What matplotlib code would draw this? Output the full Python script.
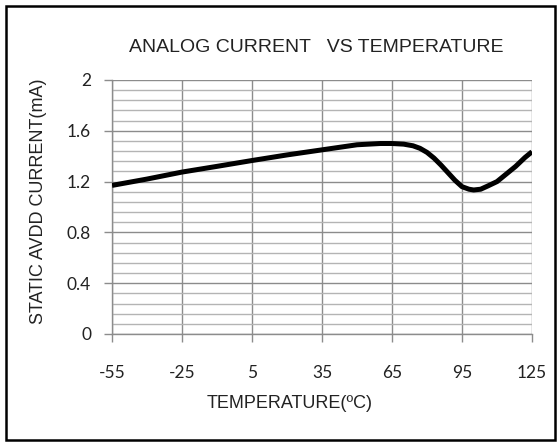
import matplotlib
matplotlib.use("Agg")
import matplotlib.pyplot as plt
from matplotlib.patches import Rectangle
from matplotlib.ticker import MultipleLocator

# temperature (C) and static AVDD current (mA)
temps = [-55, -40, -25, -10, 5, 20, 35, 50, 60, 65, 70, 74, 77, 80, 83, 86,
         89, 92, 95, 98, 100, 103, 106, 110, 114, 118, 122, 125]
current = [1.17, 1.22, 1.275, 1.32, 1.366, 1.41, 1.45, 1.49, 1.50, 1.50,
           1.495, 1.482, 1.462, 1.43, 1.385, 1.33, 1.27, 1.21, 1.16, 1.14,
           1.134, 1.14, 1.165, 1.20, 1.26, 1.32, 1.39, 1.435]

x_ticks = [-55, -25, 5, 35, 65, 95, 125]
y_ticks = [0, 0.4, 0.8, 1.2, 1.6, 2]
y_labels = ['0', '0.4', '0.8', '1.2', '1.6', '2']

plt.rcParams['font.family'] = ['Liberation Sans', 'DejaVu Sans']

W, H = 560, 445
fig = plt.figure(figsize=(5.6, 4.45), dpi=100)
fig.patch.set_facecolor('white')
ax = fig.add_axes([112 / W, 1 - 334 / H, 420 / W, 254 / H])

ax.plot(temps, current, color='black', lw=3.6, solid_capstyle='butt',
        solid_joinstyle='round', zorder=3)

ax.set_xlim(-55, 125)
ax.set_ylim(0, 2)
ax.set_xticks(x_ticks)
ax.set_xticklabels([str(t) for t in x_ticks])
ax.set_yticks(y_ticks)
ax.set_yticklabels(y_labels)
ax.yaxis.set_minor_locator(MultipleLocator(0.08))

ax.grid(which='major', axis='both', color='#8c8c8c', lw=1.0)
ax.grid(which='minor', axis='y', color='#b4b4b4', lw=1.0)
ax.set_axisbelow(True)

for side in ['top', 'right']:
    ax.spines[side].set_visible(False)
for side in ['left', 'bottom']:
    ax.spines[side].set_color('#8c8c8c')
    ax.spines[side].set_linewidth(1.0)

ax.tick_params(which='major', direction='out', length=6, width=1.0,
               color='#8c8c8c', labelsize=12.5, labelcolor='#222222')
for lbl in ax.get_xticklabels() + ax.get_yticklabels():
    lbl.set_family(['Lato', 'DejaVu Sans'])
ax.tick_params(axis='x', pad=16)
ax.tick_params(axis='y', pad=9)
ax.tick_params(which='minor', length=0)

fig.text(316 / W, 1 - 47 / H, 'ANALOG CURRENT   VS TEMPERATURE',
         ha='center', va='center', fontsize=14, color='#222222')
fig.text(290 / W, 1 - 404 / H, 'TEMPERATURE(\u00baC)',
         ha='center', va='center', fontsize=13, color='#222222')
fig.text(39 / W, 1 - 201 / H, 'STATIC AVDD CURRENT(mA)', rotation=90,
         ha='center', va='center', fontsize=13, color='#222222')

# outer frame
fig.add_artist(Rectangle((6 / W, 5 / H), 549 / W, 434 / H,
                         transform=fig.transFigure, fill=False,
                         edgecolor='black', lw=1.8))

fig.savefig('out.png', dpi=100)
